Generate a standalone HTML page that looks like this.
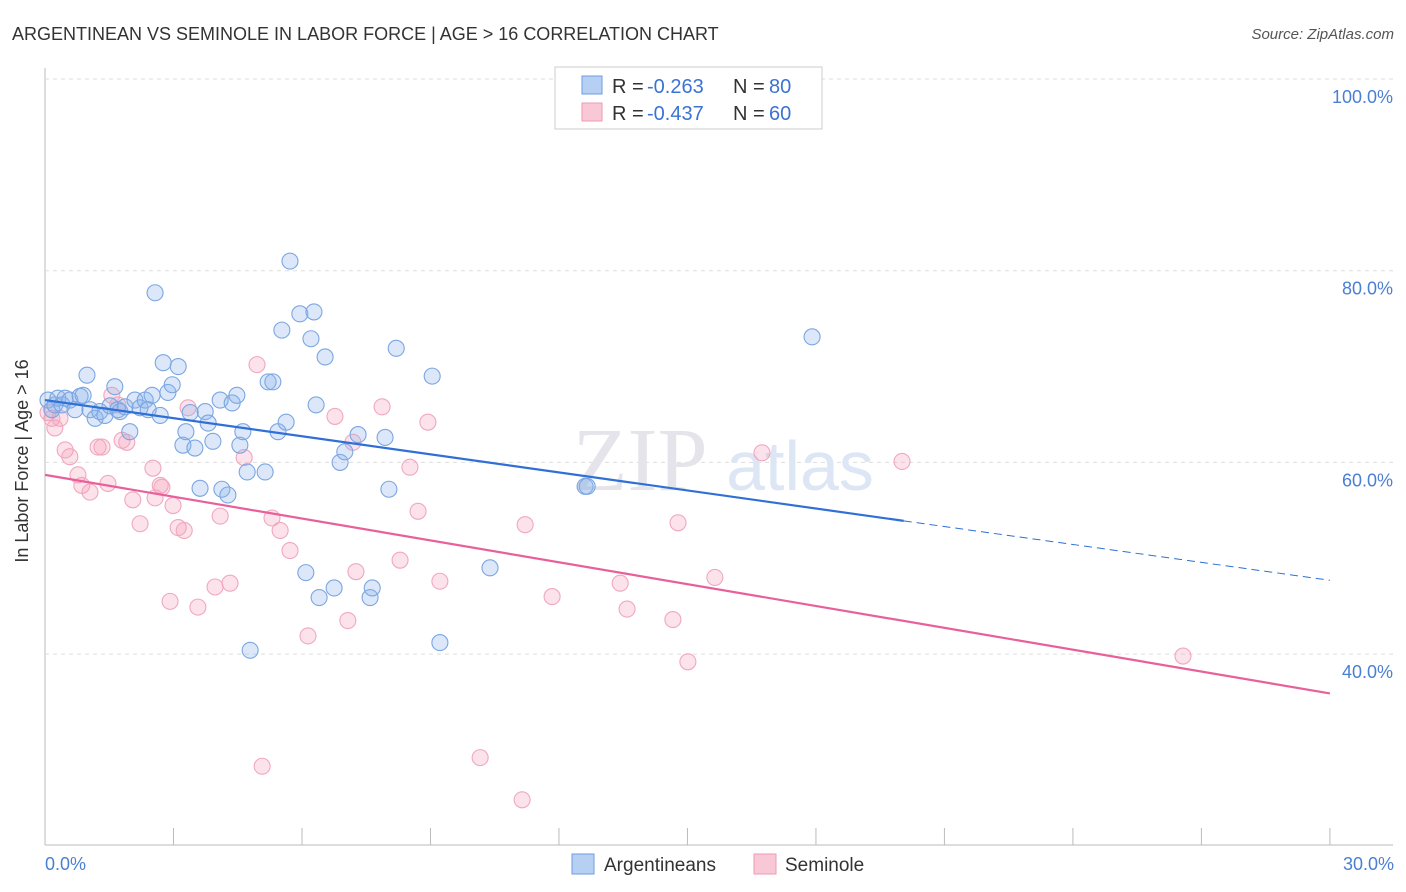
<!DOCTYPE html>
<html><head><meta charset="utf-8"><style>
body{margin:0;background:#fff;font-family:"Liberation Sans",sans-serif;}
svg{display:block}
</style></head><body>
<svg id="chart" width="1406" height="892">
<text x="12" y="40" font-size="18" fill="#333">ARGENTINEAN VS SEMINOLE IN LABOR FORCE | AGE &gt; 16 CORRELATION CHART</text>
<text x="1394" y="39" font-size="15" fill="#555" text-anchor="end" font-style="italic">Source: ZipAtlas.com</text>
<g id="grid"></g>
<text x="640" y="490" font-size="90" fill="#e4e4ea" font-family="Liberation Serif,serif" text-anchor="middle">ZIP</text>
<text x="800" y="490" font-size="70" fill="#dce6f4" text-anchor="middle">atlas</text>
<g id="points"></g>
<g id="lines"></g>
<text x="22" y="455" font-size="18" fill="#333" transform="rotate(-90 28 455)" text-anchor="middle">In Labor Force | Age &gt; 16</text>
<text x="45" y="870" font-size="18" fill="#4a7fd4">0.0%</text>
<text x="1394" y="870" font-size="18" fill="#4a7fd4" text-anchor="end">30.0%</text>
<g>
<rect x="555" y="67" width="267" height="62" fill="#fff" stroke="#ccc"/>
<rect x="582" y="76" width="20" height="18" fill="#b6d0f4" stroke="#6d9be0"/>
<rect x="582" y="103" width="20" height="18" fill="#f9c8d6" stroke="#ee9ab3"/>
<text y="93" font-size="20" fill="#333"><tspan x="612">R =</tspan><tspan x="647" fill="#3b73d4">-0.263</tspan><tspan x="733">N =</tspan><tspan x="769" fill="#3b73d4">80</tspan></text>
<text y="120" font-size="20" fill="#333"><tspan x="612">R =</tspan><tspan x="647" fill="#3b73d4">-0.437</tspan><tspan x="733">N =</tspan><tspan x="769" fill="#3b73d4">60</tspan></text>
</g>
<g>
<rect x="572" y="854" width="22" height="20" fill="#b6d0f4" stroke="#6d9be0"/>
<text x="604" y="871" font-size="19" fill="#333">Argentineans</text>
<rect x="754" y="854" width="22" height="20" fill="#f9c8d6" stroke="#ee9ab3"/>
<text x="785" y="871" font-size="19" fill="#333">Seminole</text>
</g>
</svg>
<script>
const yTicks=[100,80,60,40];
const xTicks=[0,3,6,9,12,15,18,21,24,27,30];
const blueX=[0.07,0.16,0.23,0.30,0.40,0.47,0.58,0.70,0.82,0.89,0.98,1.05,1.17,1.28,1.40,1.52,1.63,1.70,1.75,1.87,1.98,2.10,2.22,2.34,2.41,2.50,2.57,2.69,2.76,2.87,2.97,3.11,3.22,3.29,3.39,3.50,3.62,3.74,3.81,3.92,4.09,4.13,4.27,4.37,4.48,4.55,4.62,4.72,4.79,5.14,5.21,5.32,5.44,5.53,5.63,5.72,5.95,6.09,6.21,6.28,6.33,6.40,6.54,6.75,6.89,7.00,7.31,7.59,7.64,7.94,8.03,8.20,9.04,9.22,10.39,12.61,12.66,17.91];
const blueY=[66.5,65.5,66.0,66.7,66.0,66.7,66.5,65.5,66.9,67.0,69.1,65.5,64.6,65.3,64.9,65.9,67.9,65.5,65.3,65.8,63.2,66.5,65.7,66.5,65.5,67.0,77.7,64.9,70.4,67.3,68.1,70.0,61.8,63.2,65.2,61.5,57.3,65.3,64.1,62.2,66.5,57.2,56.6,66.2,67.0,61.8,63.2,59.0,40.4,59.0,68.4,68.4,63.2,73.8,64.2,81.0,75.5,48.5,72.9,75.7,66.0,45.9,71.0,46.9,60.0,61.1,62.9,45.9,46.9,62.6,57.2,71.9,69.0,41.2,49.0,57.5,57.5,73.1];
const pinkX=[0.07,0.16,0.23,0.35,0.47,0.58,0.77,0.86,1.05,1.24,1.33,1.47,1.56,1.70,1.80,1.91,2.05,2.22,2.52,2.57,2.69,2.73,2.92,2.99,3.11,3.25,3.34,3.57,3.97,4.09,4.32,4.65,4.95,5.07,5.30,5.49,5.72,6.14,6.77,7.07,7.19,7.26,7.87,8.29,8.52,8.71,8.94,9.22,10.16,11.14,11.21,11.84,13.43,13.59,14.66,14.78,15.01,15.64,16.74,20.01,26.57];
const pinkY=[65.2,64.6,63.6,64.6,61.3,60.6,58.7,57.6,56.9,61.6,61.6,57.8,67.0,66.0,62.3,62.1,56.1,53.6,59.4,56.3,57.6,57.4,45.5,55.5,53.2,52.9,65.7,44.9,47.0,54.4,47.4,60.5,70.2,28.3,54.2,52.9,50.8,41.9,64.8,43.5,62.1,48.6,65.8,49.8,59.5,54.9,64.2,47.6,29.2,24.8,53.5,46.0,47.4,44.7,43.6,53.7,39.2,48.0,61.0,60.1,39.8];
const blueTrend=[66.5,53.9,47.7];
const blueTrendX=[0,20.05,30];
const pinkTrend=[58.7,35.9];
const pinkTrendX=[0,30];
const NS="http://www.w3.org/2000/svg";
const sx=v=>45+v*42.83;
const sy=v=>79+(100-v)*9.585;
function mk(tag,attrs,parent){const e=document.createElementNS(NS,tag);for(const k in attrs)e.setAttribute(k,attrs[k]);parent.appendChild(e);return e;}
const grid=document.getElementById('grid');
mk('line',{x1:45,y1:68,x2:45,y2:845,stroke:'#bbb'},grid);
mk('line',{x1:45,y1:845,x2:1393,y2:845,stroke:'#bbb'},grid);
yTicks.forEach(t=>{
 const l=mk('line',{x1:45,y1:sy(t),x2:1393,y2:sy(t),stroke:'#ddd','stroke-dasharray':'4,4'},grid);
 
 
 const tx=mk('text',{x:1393,y:sy(t)+24,'font-size':18,fill:'#4a7fd4','text-anchor':'end'},grid);
 tx.textContent=t.toFixed(1)+'%';
 
 
});
xTicks.forEach(t=>{
 const l=mk('line',{x1:sx(t),y1:828,x2:sx(t),y2:845,stroke:'#bbb'},grid);
 
 
});
const pts=document.getElementById('points');
pinkX.forEach((x,i)=>{
 const c=mk('circle',{cx:sx(x),cy:sy(pinkY[i]),r:8,fill:'rgba(244,160,185,0.3)',stroke:'#f0a8bf','stroke-width':1.1},pts);
 
 
});
blueX.forEach((x,i)=>{
 const c=mk('circle',{cx:sx(x),cy:sy(blueY[i]),r:8,fill:'rgba(140,180,235,0.3)',stroke:'#7ba6e2','stroke-width':1.1},pts);
 
 
});
const ln=document.getElementById('lines');
const b1=mk('line',{x1:sx(blueTrendX[0]),y1:sy(blueTrend[0]),x2:sx(blueTrendX[1]),y2:sy(blueTrend[1]),stroke:'#2f6fd6','stroke-width':2.2},ln);


const b2=mk('line',{x1:sx(blueTrendX[1]),y1:sy(blueTrend[1]),x2:sx(blueTrendX[2]),y2:sy(blueTrend[2]),stroke:'#2f6fd6','stroke-width':1,'stroke-dasharray':'8,5'},ln);


const p1=mk('line',{x1:sx(pinkTrendX[0]),y1:sy(pinkTrend[0]),x2:sx(pinkTrendX[1]),y2:sy(pinkTrend[1]),stroke:'#e8609a','stroke-width':2.2},ln);


</script>
</body></html>
